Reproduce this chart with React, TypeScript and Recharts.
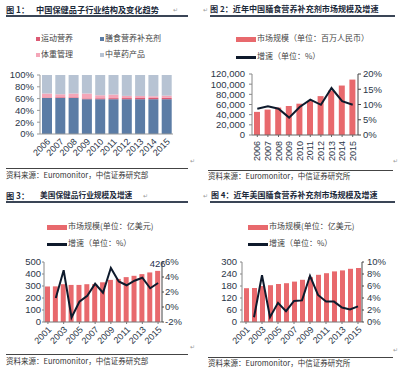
import { BarChart, ComposedChart, Bar, Line, XAxis, YAxis, LabelList } from 'recharts';

const CJK = '"Noto Sans CJK SC", "Noto Sans", sans-serif';
const NUM = '"Liberation Sans", Arial, sans-serif';
const INK = '#2b3648';
const BAR_RED = '#e8696d';
const LINE_NAVY = '#0e1a2c';

// 图1: 子行业结构 (%)
const years1 = ['2006', '2007', '2008', '2009', '2010', '2011', '2012', '2013', '2014', '2015'];
const dietShare = [61, 61, 61, 59, 59, 59, 59, 59, 59, 59];
const sportShare = [1.0, 1.1, 1.2, 1.4, 1.6, 1.8, 1.9, 2.0, 2.1, 2.2];
const weightShare = [6.6, 5.3, 6.4, 8.2, 5.1, 6.1, 3.7, 3.5, 2.9, 3.8];
const herbShare = [31.4, 32.6, 31.4, 31.4, 34.3, 33.1, 35.4, 35.5, 36, 35];

// 图2: 中国膳食营养补充剂 (百万人民币, %)
const cnSize = [45500, 50000, 54000, 57000, 61600, 66800, 76500, 87600, 97300, 109000];
const cnGrowth = [8.6, 9.4, 8.6, 5.7, 9.2, 11.6, 9.9, 15.4, 11.1, 9.9];

// 图3/4: 美国 (亿美元, %)
const usYears = ['2001', '2002', '2003', '2004', '2005', '2006', '2007', '2008', '2009', '2010', '2011', '2012', '2013', '2014', '2015'];
const usHealthSize = [296, 297, 315, 309, 309, 315, 316, 331, 351, 359, 374, 385, 399, 413, 426];
const usHealthGrowth = [null, 1.2, 4.9, -1.4, 0.7, 1.5, 3.1, 1.9, 5.2, 3.4, 2.9, 3.5, 3.9, 2.5, 3.2];
const usDietSize = [169, 170, 180, 184, 190, 194, 202, 211, 224, 236, 244, 253, 258, 266, 270];
const usDietGrowth = [null, 0.8, 7.8, 0.8, 3.2, 1.8, 3.5, 3.6, 7.7, 4.5, 3.4, 3.4, 2.4, 2.1, 2.6];

const shareData = years1.map((year, i) => ({
  year,
  diet: dietShare[i],
  sport: sportShare[i],
  weight: weightShare[i],
  herb: herbShare[i],
}));
const cnData = years1.map((year, i) => ({ year, size: cnSize[i], growth: cnGrowth[i] }));
const usHealthData = usYears.map((year, i) => ({ year, size: usHealthSize[i], growth: usHealthGrowth[i] }));
const usDietData = usYears.map((year, i) => ({ year, size: usDietSize[i], growth: usDietGrowth[i] }));

const tickStyle = { fontSize: 9.5, fill: INK, fontFamily: NUM };
const comma = (v: number) => String(v).replace(/\B(?=(\d{3})+(?!\d))/g, ',');

function SlantTick({ x, y, payload }: any) {
  return (
    <g transform={`translate(${x + 2},${y + 2})`}>
      <text transform="rotate(-45)" textAnchor="end" dy="0.35em" fontSize={9} fill={INK} fontFamily={NUM}>
        {payload.value}
      </text>
    </g>
  );
}

function VertTick({ x, y, payload }: any) {
  return (
    <g transform={`translate(${x},${y + 2})`}>
      <text transform="rotate(-90)" textAnchor="end" dy="0.35em" fontSize={9} fill={INK} fontFamily={NUM}>
        {payload.value}
      </text>
    </g>
  );
}

function Txt({ x, y, size, bold, color, children }: any) {
  return (
    <div
      style={{
        position: 'absolute',
        left: x,
        top: y - size / 2 - 1,
        fontSize: size,
        lineHeight: 1.1,
        fontWeight: bold ? 700 : 400,
        color: color || '#333',
        whiteSpace: 'nowrap',
        fontFamily: CJK,
      }}
    >
      {children}
    </div>
  );
}

function HLine({ x, y, w, h, color }: any) {
  return <div style={{ position: 'absolute', left: x, top: y, width: w, height: h, background: color }} />;
}

function Mark({ x, y }: any) {
  return (
    <div style={{ position: 'absolute', left: x, top: y, fontSize: 6, color: '#999', fontFamily: CJK }}>↵</div>
  );
}

function SquareKey({ x, y, color, label }: any) {
  return (
    <>
      <div style={{ position: 'absolute', left: x, top: y - 2, width: 4, height: 4, background: color }} />
      <Txt x={x + 5} y={y} size={8} color="#444">{label}</Txt>
    </>
  );
}

function BarKey({ x, y, label }: any) {
  return (
    <>
      <div style={{ position: 'absolute', left: x, top: y - 2.5, width: 20, height: 5, background: BAR_RED }} />
      <Txt x={x + 21} y={y} size={8} color="#444">{label}</Txt>
    </>
  );
}

function LineKey({ x, y, label }: any) {
  return (
    <>
      <div style={{ position: 'absolute', left: x, top: y - 1.5, width: 20, height: 3, background: LINE_NAVY }} />
      <Txt x={x + 21} y={y} size={8} color="#444">{label}</Txt>
    </>
  );
}

function UsChart({ data, max, rMin, rMax, rTicks, showLast }: any) {
  const last = data.length - 1;
  const step = max / 5;
  return (
    <ComposedChart width={200} height={110} data={data} margin={{ top: 12, right: 0, left: 0, bottom: 0 }}>
      <XAxis
        dataKey="year"
        height={38}
        interval={1}
        tick={<SlantTick />}
        tickSize={2}
        axisLine={{ stroke: '#777' }}
        tickLine={{ stroke: '#777' }}
      />
      <YAxis
        yAxisId="l"
        width={showLast ? 44 : 42}
        domain={[0, max]}
        ticks={[0, step, step * 2, step * 3, step * 4, max]}
        interval={0}
        tick={tickStyle}
        tickSize={2}
        tickMargin={showLast ? 1 : 3}
        axisLine={{ stroke: '#888' }}
        tickLine={{ stroke: '#888' }}
      />
      <YAxis
        yAxisId="r"
        orientation="right"
        width={38}
        domain={[rMin, rMax]}
        ticks={rTicks}
        interval={0}
        tickFormatter={(v: number) => `${v}%`}
        tick={tickStyle}
        tickSize={2}
        tickMargin={showLast ? 1 : 3}
        axisLine={{ stroke: '#444' }}
        tickLine={{ stroke: '#444' }}
      />
      <Bar yAxisId="l" dataKey="size" barSize={5} fill={BAR_RED} isAnimationActive={false}>
        {showLast && (
          <LabelList
            dataKey="size"
            content={(p: any) =>
              p.index === last ? (
                <text
                  x={p.x + p.width / 2}
                  y={p.y - 4}
                  textAnchor="middle"
                  fontSize={9.5}
                  fill="#1f3050"
                  fontFamily={NUM}
                >
                  {p.value}
                </text>
              ) : null
            }
          />
        )}
      </Bar>
      <Line
        yAxisId="r"
        type="linear"
        dataKey="growth"
        stroke={LINE_NAVY}
        strokeWidth={2}
        dot={false}
        isAnimationActive={false}
      />
    </ComposedChart>
  );
}

export default function App() {
  return (
    <div
      style={{
        position: 'absolute',
        left: 0,
        top: 0,
        width: 400,
        height: 372,
        background: '#fff',
        overflow: 'hidden',
        fontFamily: CJK,
      }}
    >
      {/* 图1 */}
      <Txt x={6} y={10} size={8.2} bold color="#1c2a3a">图 1：</Txt>
      <Txt x={36} y={10} size={8.2} bold color="#1c2a3a">中国保健品子行业结构及变化趋势</Txt>
      <Mark x={173} y={5} />
      <HLine x={6} y={15} w={182} h={2} color="#3a4556" />
      <SquareKey x={36} y={39} color="#dc5a74" label="运动营养" />
      <SquareKey x={100} y={39} color="#5b7ca5" label="膳食营养补充剂" />
      <SquareKey x={36} y={55} color="#f4a6b8" label="体重管理" />
      <SquareKey x={100} y={55} color="#b7c3d3" label="中草药产品" />
      <div style={{ position: 'absolute', left: 0, top: 60 }}>
        <BarChart width={200} height={110} data={shareData} margin={{ top: 15, right: 27, left: 0, bottom: 0 }} barSize={10}>
          <XAxis
            dataKey="year"
            height={36}
            interval={0}
            tick={<SlantTick />}
            tickSize={2}
            axisLine={{ stroke: '#999' }}
            tickLine={false}
          />
          <YAxis
            width={40}
            domain={[0, 100]}
            ticks={[0, 20, 40, 60, 80, 100]}
            interval={0}
            tickFormatter={(v: number) => `${v}%`}
            tick={tickStyle}
            tickSize={3}
            tickMargin={3}
            axisLine={{ stroke: '#999' }}
            tickLine={{ stroke: '#999' }}
          />
          <Bar dataKey="diet" stackId="a" fill="#5b7ca5" isAnimationActive={false} />
          <Bar dataKey="sport" stackId="a" fill="#dc5a74" isAnimationActive={false} />
          <Bar dataKey="weight" stackId="a" fill="#f4a6b8" isAnimationActive={false} />
          <Bar dataKey="herb" stackId="a" fill="#b7c3d3" isAnimationActive={false} />
        </BarChart>
      </div>
      <Mark x={190} y={156} />
      <HLine x={6} y={168} w={182} h={1} color="#444" />
      <Txt x={6} y={176} size={7.5} color="#333">资料来源：Euromonitor，中信证券研究部</Txt>

      {/* 图2 */}
      <Mark x={203} y={5} />
      <Txt x={210} y={10} size={8.1} bold color="#1c2a3a">图 2：近年中国膳食营养补充剂市场规模及增速</Txt>
      <HLine x={210} y={15} w={185} h={2} color="#3a4556" />
      <BarKey x={236} y={39} label="市场规模（单位：百万人民币）" />
      <LineKey x={236} y={57} label="增速（单位：%）" />
      <div style={{ position: 'absolute', left: 200, top: 60 }}>
        <ComposedChart width={200} height={110} data={cnData} margin={{ top: 14, right: 0, left: 0, bottom: 0 }}>
          <XAxis
            dataKey="year"
            height={35}
            interval={0}
            tick={<VertTick />}
            tickSize={2}
            axisLine={{ stroke: '#666' }}
            tickLine={{ stroke: '#666' }}
          />
          <YAxis
            yAxisId="l"
            width={52}
            domain={[0, 120000]}
            ticks={[0, 20000, 40000, 60000, 80000, 100000, 120000]}
            interval={0}
            tickFormatter={comma}
            tick={tickStyle}
            tickSize={3}
            tickMargin={4}
            axisLine={{ stroke: '#888' }}
            tickLine={{ stroke: '#888' }}
          />
          <YAxis
            yAxisId="r"
            orientation="right"
            width={42}
            domain={[0, 20]}
            ticks={[0, 5, 10, 15, 20]}
            interval={0}
            tickFormatter={(v: number) => `${v}%`}
            tick={tickStyle}
            tickSize={3}
            tickMargin={2}
            axisLine={{ stroke: '#444' }}
            tickLine={{ stroke: '#444' }}
          />
          <Bar yAxisId="l" dataKey="size" barSize={6} fill={BAR_RED} isAnimationActive={false} />
          <Line
            yAxisId="r"
            type="linear"
            dataKey="growth"
            stroke={LINE_NAVY}
            strokeWidth={2}
            dot={false}
            isAnimationActive={false}
          />
        </ComposedChart>
      </div>
      <Mark x={393} y={156} />
      <HLine x={208} y={170} w={185} h={1} color="#444" />
      <Txt x={208} y={177} size={7.5} color="#333">资料来源：Euromonitor，中信证券研究所</Txt>

      {/* 图3 */}
      <Txt x={6} y={196} size={8.2} bold color="#1c2a3a">图 3：</Txt>
      <Txt x={40} y={196} size={7.7} bold color="#1c2a3a">美国保健品行业规模及增速</Txt>
      <Mark x={143} y={191} />
      <HLine x={6} y={201} w={182} h={2} color="#3a4556" />
      <BarKey x={47} y={227} label="市场规模(单位：亿美元)" />
      <LineKey x={47} y={244} label="增速（单位：%）" />
      <div style={{ position: 'absolute', left: 0, top: 250 }}>
        <UsChart data={usHealthData} max={500} rMin={-2} rMax={6} rTicks={[-2, 0, 2, 4, 6]} showLast />
      </div>
      <Mark x={190} y={342} />
      <HLine x={6} y={354} w={182} h={1} color="#444" />
      <Txt x={6} y={362} size={7.5} color="#333">资料来源：Euromonitor，中信证券研究部</Txt>

      {/* 图4 */}
      <Mark x={203} y={191} />
      <Txt x={211} y={196} size={8} bold color="#1c2a3a">图 4：近年美国膳食营养补充剂市场规模及增速</Txt>
      <HLine x={210} y={201} w={185} h={2} color="#3a4556" />
      <BarKey x={248} y={227} label="市场规模(单位：亿美元)" />
      <LineKey x={248} y={244} label="增速（单位：%）" />
      <div style={{ position: 'absolute', left: 200, top: 250 }}>
        <UsChart data={usDietData} max={300} rMin={0} rMax={10} rTicks={[0, 2, 4, 6, 8, 10]} />
      </div>
      <Mark x={393} y={345} />
      <HLine x={208} y={357} w={185} h={1} color="#444" />
      <Txt x={208} y={364} size={7.5} color="#333">资料来源：Euromonitor，中信证券研究所</Txt>
    </div>
  );
}
